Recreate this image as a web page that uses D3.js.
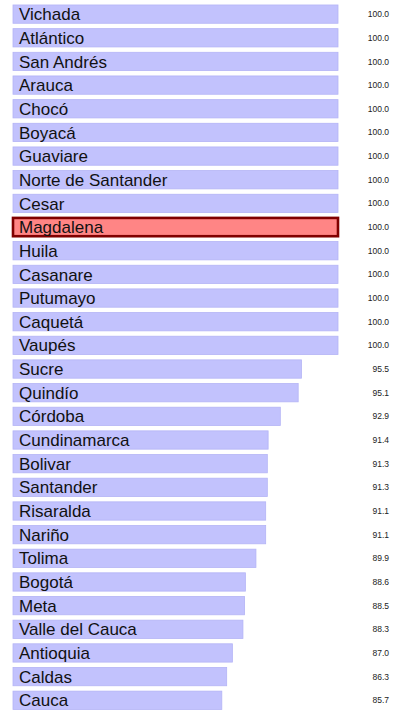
<!DOCTYPE html>
<html>
<head>
<meta charset="utf-8">
<script src="https://cdn.jsdelivr.net/npm/d3@7"></script>
<style>
  html, body { margin: 0; padding: 0; background: #fff; }
  svg { display: block; }
</style>
</head>
<body>
<svg id="chart" width="393" height="711"></svg>
<script>
// Departments, ordered as listed
const departments = [
  "Vichada", "Atlántico", "San Andrés", "Arauca", "Chocó", "Boyacá",
  "Guaviare", "Norte de Santander", "Cesar", "Magdalena", "Huila",
  "Casanare", "Putumayo", "Caquetá", "Vaupés", "Sucre", "Quindío",
  "Córdoba", "Cundinamarca", "Bolivar", "Santander", "Risaralda",
  "Nariño", "Tolima", "Bogotá", "Meta", "Valle del Cauca", "Antioquia",
  "Caldas", "Cauca"
];
const values = [
  100.0, 100.0, 100.0, 100.0, 100.0, 100.0,
  100.0, 100.0, 100.0, 100.0, 100.0,
  100.0, 100.0, 100.0, 100.0, 95.5, 95.1,
  92.9, 91.4, 91.3, 91.3, 91.1,
  91.1, 89.9, 88.6, 88.5, 88.3, 87.0,
  86.3, 85.7
];
const highlighted = ["Magdalena"];
const valueDomain = [60, 100];

const rows = departments.map((name, i) => ({ name, value: values[i] }));

const svg = d3.select("#chart");

const x = d3.scaleLinear().domain(valueDomain).range([13, 338]);
const y = d3.scaleBand()
  .domain(departments)
  .range([2.3, 712.1])
  .paddingInner(0.2265)
  .paddingOuter(0.113);

const row = svg.selectAll("g.row")
  .data(rows)
  .join("g")
  .attr("class", "row");

row.append("rect")
  .attr("x", x(valueDomain[0]))
  .attr("y", d => y(d.name))
  .attr("width", d => x(d.value) - x(valueDomain[0]))
  .attr("height", y.bandwidth())
  .attr("fill", d => highlighted.includes(d.name) ? "#ff8585" : "#c2c2fd")
  .attr("stroke", d => highlighted.includes(d.name) ? "#800000" : "#b4b4f6")
  .attr("stroke-width", d => highlighted.includes(d.name) ? 2.6 : 0.8);

row.append("text")
  .attr("x", 19)
  .attr("y", d => y(d.name) + y.bandwidth() / 2)
  .attr("dy", "0.36em")
  .attr("font-family", "Liberation Sans, Arial, sans-serif")
  .attr("font-size", 17)
  .attr("fill", "#111")
  .text(d => d.name);

row.append("text")
  .attr("x", 389)
  .attr("y", d => y(d.name) + y.bandwidth() / 2)
  .attr("dy", "0.36em")
  .attr("text-anchor", "end")
  .attr("font-family", "Liberation Sans, Arial, sans-serif")
  .attr("font-size", 8.5)
  .attr("fill", "#222")
  .text(d => d3.format(".1f")(d.value));
</script>
</body>
</html>
